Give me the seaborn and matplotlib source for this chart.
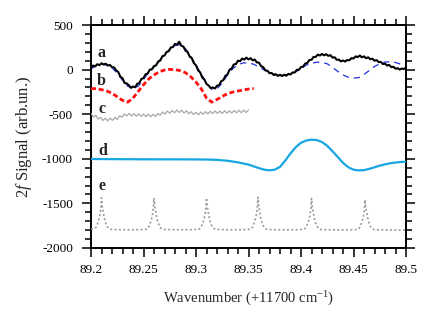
import numpy as np
import matplotlib
matplotlib.use("Agg")
import matplotlib.pyplot as plt
from matplotlib.ticker import MultipleLocator, FormatStrFormatter
import seaborn as sns

# ---------------- data ----------------
# a: measured 2f signal (black, noisy)
a_x = np.linspace(89.2, 89.5, 151)
a_y = [22, 45, 38, 60, 50, 70, 58, 66, 46, 52, 28, 24, -8, -28, -80, -96, -150, -155,
       -175, -204, -190, -198, -160, -150, -105, -96, -52, -44, 0, 2, 40, 48, 90, 102,
       150, 158, 198, 206, 248, 252, 288, 280, 312, 268, 258, 212, 198, 146, 128, 72,
       48, -8, -32, -90, -112, -160, -178, -208, -200, -212, -182, -174, -130, -118,
       -70, -54, 0, 12, 58, 62, 100, 94, 124, 112, 134, 114, 128, 104, 112, 80, 78, 38,
       28, -8, -12, -40, -38, -60, -52, -70, -58, -72, -58, -68, -48, -55, -32, -32,
       -2, -2, 28, 34, 68, 74, 108, 110, 142, 142, 168, 158, 175, 160, 172, 154, 162,
       135, 138, 110, 112, 92, 102, 90, 108, 104, 128, 124, 148, 140, 158, 138, 148,
       128, 138, 116, 122, 100, 106, 84, 86, 62, 66, 46, 52, 28, 32, 10, 16, 0, 12, 6,
       24]

# a fit (blue dashed)
fit_x = np.linspace(89.2, 89.5, 61)
fit_y = [10, 40, 60, 50, 20, -40, -120, -185, -215, -185, -110, -30, 30, 100, 170,
         230, 270, 280, 235, 150, 50, -50, -150, -220, -215, -150, -60, 10, 55, 75,
         75, 60, 30, -5, -35, -55, -65, -65, -50, -25, 10, 50, 72, 82, 82, 65, 25,
         -20, -60, -85, -95, -90, -55, -10, 35, 65, 85, 88, 80, 60, 40]

# b (red dashed)
b_x = np.linspace(89.2, 89.355, 32)
b_y = [-212, -215, -225, -240, -265, -305, -345, -365, -320, -245, -170, -105, -60,
       -25, -5, 2, 0, -12, -35, -80, -140, -215, -320, -365, -335, -300, -270, -252,
       -240, -228, -218, -212]

# c (gray, fringes)
c_x = np.linspace(89.2, 89.35, 67)
c_y = [-490, -532, -514, -554, -536, -570, -545, -574, -544, -569, -536, -559, -518,
       -532, -496, -519, -491, -521, -494, -523, -496, -525, -498, -527, -500, -529,
       -501, -526, -491, -512, -476, -498, -464, -489, -458, -484, -454, -481, -456,
       -487, -462, -495, -472, -504, -478, -507, -476, -501, -471, -497, -467, -493,
       -464, -492, -464, -491, -462, -489, -460, -487, -458, -485, -456, -483, -454,
       -481, -453]

# d (cyan)
d_x = [89.200, 89.220, 89.240, 89.260, 89.280, 89.300, 89.310, 89.320, 89.330, 89.340,
       89.350, 89.355, 89.360, 89.365, 89.370, 89.375, 89.380, 89.385, 89.390, 89.395,
       89.400, 89.405, 89.410, 89.415, 89.420, 89.425, 89.430, 89.435, 89.440, 89.445,
       89.450, 89.455, 89.460, 89.465, 89.470, 89.475, 89.480, 89.485, 89.490, 89.495,
       89.500]
d_y = [-1002, -1004, -1005, -1006, -1006, -1007, -1008, -1012, -1022, -1040, -1065,
       -1085, -1105, -1122, -1129, -1122, -1090, -1020, -940, -870, -820, -795, -785,
       -790, -812, -855, -915, -980, -1045, -1095, -1122, -1130, -1127, -1113, -1095,
       -1077, -1062, -1050, -1042, -1036, -1033]

# e (gray dotted, etalon fringes)
e_x = [89.2000, 89.2030, 89.2050, 89.2068, 89.2085, 89.2094, 89.2100, 89.2107, 89.2116,
       89.2126, 89.2135, 89.2150, 89.2165, 89.2190, 89.2300, 89.2450,
       89.2530, 89.2550, 89.2568, 89.2585, 89.2594, 89.2600, 89.2607, 89.2616,
       89.2626, 89.2635, 89.2650, 89.2665, 89.2690, 89.2800, 89.2950,
       89.3030, 89.3050, 89.3068, 89.3085, 89.3094, 89.3100, 89.3107, 89.3116,
       89.3126, 89.3135, 89.3150, 89.3165, 89.3190, 89.3300, 89.3440,
       89.3520, 89.3540, 89.3558, 89.3575, 89.3584, 89.3590, 89.3597, 89.3606,
       89.3616, 89.3625, 89.3640, 89.3655, 89.3680, 89.3800, 89.3950,
       89.4030, 89.4050, 89.4068, 89.4085, 89.4094, 89.4100, 89.4107, 89.4116,
       89.4126, 89.4135, 89.4150, 89.4165, 89.4190, 89.4300, 89.4460,
       89.4540, 89.4560, 89.4578, 89.4595, 89.4604, 89.4610, 89.4617, 89.4626,
       89.4636, 89.4645, 89.4660, 89.4675, 89.4700, 89.4850, 89.5000]
e_y = [-1790, -1785, -1765, -1710, -1630, -1550, -1438, -1530, -1590, -1660, -1705,
       -1750, -1778, -1792, -1795, -1795,
       -1790, -1765, -1710, -1630, -1550, -1438, -1530, -1590, -1660, -1705, -1750,
       -1778, -1792, -1795, -1795,
       -1790, -1765, -1710, -1630, -1550, -1438, -1530, -1590, -1660, -1705, -1750,
       -1778, -1792, -1795, -1795,
       -1790, -1765, -1710, -1630, -1548, -1430, -1525, -1588, -1660, -1705, -1750,
       -1778, -1792, -1796, -1796,
       -1790, -1765, -1712, -1635, -1555, -1445, -1535, -1595, -1662, -1707, -1752,
       -1779, -1793, -1797, -1797,
       -1792, -1768, -1718, -1642, -1565, -1460, -1545, -1600, -1665, -1710, -1755,
       -1780, -1795, -1798, -1800]

labels = ["a", "b", "c", "d", "e"]
x_ticks = [89.2, 89.25, 89.3, 89.35, 89.4, 89.45, 89.5]
y_ticks = [-2000, -1500, -1000, -500, 0, 500]

# ---------------- style ----------------
sns.set_style("ticks")
plt.rcParams["font.family"] = ["Liberation Serif", "DejaVu Serif"]
plt.rcParams["mathtext.fontset"] = "custom"
plt.rcParams["mathtext.rm"] = "Liberation Serif"
plt.rcParams["mathtext.it"] = "Liberation Serif:italic"
plt.rcParams["axes.unicode_minus"] = False

fig = plt.figure(figsize=(4.36, 3.25), dpi=100)
ax = fig.add_axes([91 / 436, 1 - 248 / 325, 315 / 436, 223 / 325])

common = dict(ax=ax, estimator=None, sort=False, legend=False)
sns.lineplot(x=fit_x, y=fit_y, color="#1f2fe0", linewidth=0.9,
             linestyle=(0, (5, 4)), zorder=2, **common)
sns.lineplot(x=a_x, y=a_y, color="black", linewidth=1.5, zorder=3, **common)
sns.lineplot(x=b_x, y=b_y, color="#ff1010", linewidth=2.0,
             linestyle=(0, (1.8, 1.0)), zorder=3, **common)
sns.lineplot(x=c_x, y=c_y, color="#a8a8a8", linewidth=0.9, zorder=3, **common)
sns.lineplot(x=d_x, y=d_y, color="#16a7e2", linewidth=1.6, zorder=3, **common)
sns.lineplot(x=e_x, y=e_y, color="#9a9a9a", linewidth=1.2,
             linestyle=(0, (1.2, 1.4)), zorder=3, **common)

label_pos = [(89.2102, 187), (89.2102, -131), (89.2102, -437), (89.2115, -908),
             (89.2102, -1300)]
for lab, (lx, ly) in zip(labels, label_pos):
    ax.text(lx, ly, lab, fontsize=11.5, fontweight="bold", ha="center", va="center")

ax.set_xlim(89.2, 89.5)
ax.set_ylim(-2000, 500)
ax.set_xticks(x_ticks)
ax.set_yticks(y_ticks)
ax.xaxis.set_major_formatter(FormatStrFormatter("%g"))
ax.yaxis.set_major_formatter(FormatStrFormatter("%d"))
ax.xaxis.set_minor_locator(MultipleLocator(0.01))
ax.yaxis.set_minor_locator(MultipleLocator(100))
ax.tick_params(which="both", direction="out", top=True, right=True,
               labeltop=False, labelright=False, width=1.1, colors="black")
ax.tick_params(which="major", length=6.5, labelsize=9.5)
ax.tick_params(axis="y", which="major", pad=6.5)
ax.tick_params(axis="x", which="major", pad=5)
ax.tick_params(which="minor", length=4)
for s in ax.spines.values():
    s.set_linewidth(1.4)
    s.set_color("black")

ax.set_xlabel("Wavenumber (+11700 cm$^{-1}$)", fontsize=10.5, labelpad=10)
ax.set_ylabel("2$f$ Signal (arb.un.)", fontsize=12, labelpad=6)

fig.savefig("out.png", dpi=100)
